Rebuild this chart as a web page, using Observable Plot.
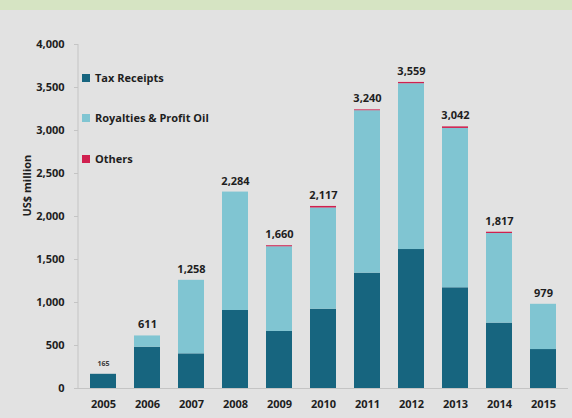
<!DOCTYPE html>
<html>
<head>
<meta charset="utf-8">
<script src="https://cdn.jsdelivr.net/npm/d3@7"></script>
<script src="https://cdn.jsdelivr.net/npm/@observablehq/plot@0.6"></script>
<style>
  html, body { margin: 0; padding: 0; background: #e2e2e2; }
  #wrap { position: relative; width: 572px; height: 418px; overflow: hidden; background: #e2e2e2; }
  #band { height: 10px; background: #d6e4c3; }
  #chart svg { display: block; }
  #legend { position: absolute; left: 82px; top: 70px; font-family: "Open Sans", sans-serif; font-weight: 700; font-size: 11px; color: #1e1e1e; }
  #legend .item { position: absolute; left: 0; white-space: nowrap; display: flex; align-items: center; }
  #legend .sw { width: 8px; height: 8px; margin-right: 5px; }
</style>
</head>
<body>
<div id="wrap">
  <div id="band"></div>
  <div id="chart"></div>
  <div id="legend"></div>
</div>
<script>
const years = ["2005","2006","2007","2008","2009","2010","2011","2012","2013","2014","2015"];
const taxReceipts = [165, 480, 403, 907, 663, 922, 1341, 1616, 1171, 760, 453];
const royalties   = [0, 131, 855, 1377, 985, 1177, 1889, 1928, 1853, 1042, 526];
const others      = [0, 0, 0, 0, 12, 18, 10, 15, 18, 15, 0];
const totals      = [165, 611, 1258, 2284, 1660, 2117, 3240, 3559, 3042, 1817, 979];
const totalLabels = ["165","611","1,258","2,284","1,660","2,117","3,240","3,559","3,042","1,817","979"];
const seriesNames = ["Tax Receipts", "Royalties & Profit Oil", "Others"];
const seriesColors = ["#17657f", "#80c5d2", "#d0204f"];
const yTicks = [0, 500, 1000, 1500, 2000, 2500, 3000, 3500, 4000];

const rows = [];
years.forEach((y, i) => {
  rows.push({year: y, series: seriesNames[0], value: taxReceipts[i]});
  rows.push({year: y, series: seriesNames[1], value: royalties[i]});
  rows.push({year: y, series: seriesNames[2], value: others[i]});
});
const labels = years.map((y, i) => ({year: y, total: totals[i], label: totalLabels[i], small: i === 0}));

// vertical axis line at the left edge of the plotting frame
function yAxisLine(index, scales, values, dims) {
  const y0 = scales.y(0), y1 = scales.y(4000);
  const line = document.createElementNS("http://www.w3.org/2000/svg", "line");
  line.setAttribute("x1", dims.marginLeft);
  line.setAttribute("x2", dims.marginLeft);
  line.setAttribute("y1", y0);
  line.setAttribute("y2", y1);
  line.setAttribute("stroke", "#c4c4c4");
  return line;
}

const font = "Open Sans, sans-serif";
const plot = Plot.plot({
  width: 572,
  height: 408,
  marginTop: 34,
  marginBottom: 30,
  marginLeft: 78,
  marginRight: 4,
  style: {background: "#e2e2e2", fontFamily: font, fontSize: "11px", fontWeight: 700, color: "#1e1e1e"},
  x: {domain: years, paddingInner: 0.42, paddingOuter: 0.2, label: null},
  y: {domain: [0, 4000], ticks: yTicks, label: null, tickFormat: d3.format(",")},
  color: {domain: seriesNames, range: seriesColors},
  marks: [
    yAxisLine,
    Plot.axisY({ticks: yTicks, tickFormat: d3.format(","), tickSize: 4, tickPadding: 10, stroke: "#c4c4c4", fontSize: 11, fontWeight: 700, fill: "#1e1e1e"}),
    Plot.axisX({tickSize: 0, tickPadding: 12, fontSize: 11, fontWeight: 700, fill: "#1e1e1e"}),
    Plot.barY(rows, {x: "year", y: "value", fill: "series", order: seriesNames}),
    Plot.ruleY([0], {stroke: "#c4c4c4"}),
    Plot.text(labels.filter(d => !d.small), {x: "year", y: "total", text: "label", dy: -11, fontSize: 11, fontWeight: 700, fill: "#1e1e1e"}),
    Plot.text(labels.filter(d => d.small), {x: "year", y: "total", text: "label", dy: -11, fontSize: 7, fontWeight: 700, fill: "#3a3a3a"}),
    Plot.text(["US$ million"], {frameAnchor: "left", dx: -51, rotate: -90, fontSize: 11, fontWeight: 700, fill: "#1e1e1e"})
  ]
});
document.getElementById("chart").appendChild(plot);

const legend = document.getElementById("legend");
const offsets = [0, 40, 81];
seriesNames.forEach((name, i) => {
  const it = document.createElement("div");
  it.className = "item";
  it.style.top = offsets[i] + "px";
  const sw = document.createElement("span");
  sw.className = "sw";
  sw.style.background = seriesColors[i];
  it.appendChild(sw);
  it.appendChild(document.createTextNode(name));
  legend.appendChild(it);
});
</script>
</body>
</html>
